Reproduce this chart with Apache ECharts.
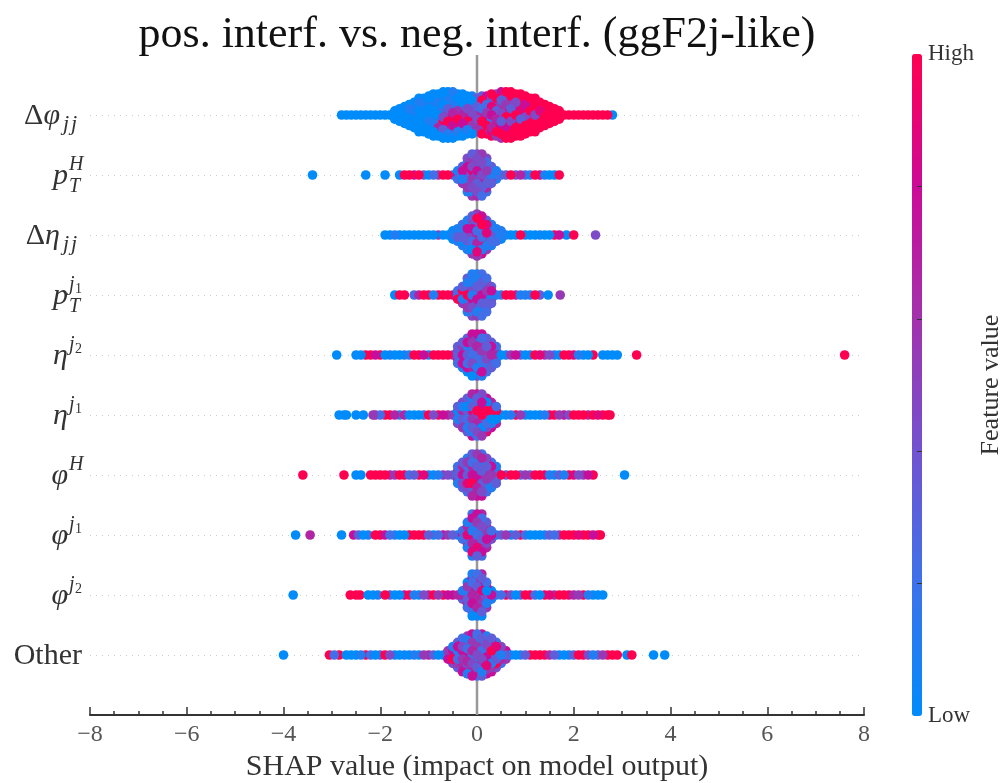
<!DOCTYPE html>
<html>
<head>
<meta charset="utf-8">
<title>SHAP summary</title>
<script src="https://cdn.jsdelivr.net/npm/echarts@6/dist/echarts.min.js"></script>
<style>
  html, body { margin: 0; padding: 0; background: #fff; }
  #main { width: 1001px; height: 783px; }
</style>
</head>
<body>
<div id="main"></div>
<script>
// 每行: X = SHAP 值, F = 该列每个点的特征值(一个数字一个点, 0 低 ~ 9 高)
var dphiX = [-2.8,-2.7,-2.6,-2.5,-2.4,-2.3,-2.2,-2.1,-2,-1.9,-1.8,-1.7,-1.6,-1.5,-1.4,-1.3,-1.2,-1.1,-1,-0.9,-0.8,-0.7,-0.6,-0.5,-0.4,-0.3,-0.2,-0.1,0,0.1,0.2,0.3,0.4,0.5,0.6,0.7,0.8,0.9,1,1.1,1.2,1.3,1.4,1.5,1.6,1.7,1.8,1.9,2,2.1,2.2,2.3,2.4,2.5,2.6,2.7,2.8];
var dphiF = ['0','0','0','0','0','0','0','0','0','0','0','000','0100','00100','010000','0010100','010001000','001000100','0010001000','00100031100','00101037610','001021497310','001035797210','102136897410','00135799710','00026697310','0024879310','1039472530','353984725','3942679519','7429573949','94385729689','39483968795','793584937995','937583998799','994739848999','99479983999','99978939999','9979949999','999993999','999949999','9989999','999999','99999','9999','999','9','9','9','9','9','9','9','9','9','9','0'];

var ptHX = [-3.4,-2.3,-1.9,-1.6,-1.5,-1.4,-1.3,-1.2,-1.1,-1,-0.9,-0.8,-0.7,-0.6,-0.5,-0.4,-0.3,-0.2,-0.1,0,0.1,0.2,0.3,0.4,0.5,0.6,0.7,0.8,0.9,1,1.1,1.2,1.3,1.4,1.5,1.6,1.7];
var ptHF = ['0','0','0','0','9','9','7','9','3','0','2','5','9','9','1','172','37515','417343651','35548352415','44537263546','53428475352','425534362','37153','121','2','3','9','3','6','2','1','9','7','1','0','0','9'];

var detaX = [-1.9,-1.8,-1.7,-1.6,-1.5,-1.4,-1.3,-1.2,-1.1,-1,-0.9,-0.8,-0.7,-0.6,-0.5,-0.4,-0.3,-0.2,-0.1,0,0.1,0.2,0.3,0.4,0.5,0.6,0.7,0.8,0.9,1,1.1,1.2,1.3,1.4,1.5,1.6,1.7,1.85,2,2.45];
var detaF = ['0','0','1','0','0','0','0','0','0','0','0','5','0','0','010','1031','217301','12748301','3417482305','59372646185','7394529317','38284315','193721','1032','110','1','0','0','9','0','0','0','1','0','0','9','7','0','9','4'];

var ptj1X = [-1.7,-1.6,-1.5,-1.3,-1.2,-1.1,-1,-0.9,-0.8,-0.7,-0.6,-0.5,-0.4,-0.3,-0.2,-0.1,0,0.1,0.2,0.3,0.4,0.5,0.6,0.7,0.8,0.9,1,1.1,1.2,1.3,1.47,1.72];
var ptj1F = ['0','9','9','2','6','9','9','1','9','9','9','7','219','39415','314293451','13143173424','11534273415','21324753142','243517342','37153','1','2','9','9','6','1','1','1','9','3','0','5'];

var eta2X = [-2.9,-2.5,-2.4,-2.3,-2.2,-2.1,-2,-1.9,-1.8,-1.7,-1.6,-1.5,-1.4,-1.3,-1.2,-1.1,-1,-0.9,-0.8,-0.7,-0.6,-0.5,-0.4,-0.3,-0.2,-0.1,0,0.1,0.2,0.3,0.4,0.5,0.6,0.7,0.8,0.9,1,1.1,1.2,1.3,1.4,1.5,1.6,1.7,1.8,1.9,2,2.1,2.2,2.3,2.4,2.6,2.7,2.8,2.9,3.3,7.6];
var eta2F = ['0','0','0','9','9','7','9','0','1','0','0','1','1','9','9','7','0','9','9','9','9','5','34362','3517371','371536270','71527254630','70763523174','72515342871','363574172','3726153','23602','0','1','5','7','3','0','1','9','8','5','4','1','0','9','9','8','1','0','0','9','0','0','0','0','9','9'];

var eta1X = [-2.85,-2.75,-2.7,-2.5,-2.35,-2.15,-2.1,-2,-1.9,-1.8,-1.7,-1.6,-1.5,-1.4,-1.3,-1.2,-1.1,-1,-0.9,-0.8,-0.7,-0.6,-0.5,-0.4,-0.3,-0.2,-0.1,0,0.1,0.2,0.3,0.4,0.5,0.6,0.7,0.8,0.9,1,1.1,1.2,1.3,1.4,1.5,1.6,1.7,1.8,1.9,2,2.1,2.2,2.3,2.4,2.5,2.6,2.7,2.75];
var eta1F = ['0','0','0','0','0','5','6','2','9','9','6','1','6','0','0','0','2','9','4','9','7','6','5','30514','4161305','350372713','61038257317','73129296542','40771936085','701935248','6293017','29106','0','0','1','9','5','0','0','0','0','1','8','9','5','7','4','9','9','9','6','9','8','9','9','9'];

var phHX = [-3.6,-2.75,-2.5,-2.4,-2.2,-2.1,-2,-1.9,-1.8,-1.7,-1.6,-1.5,-1.4,-1.3,-1.2,-1.1,-1,-0.9,-0.8,-0.7,-0.6,-0.5,-0.4,-0.3,-0.2,-0.1,0,0.1,0.2,0.3,0.4,0.5,0.6,0.7,0.8,0.9,1,1.1,1.2,1.3,1.4,1.5,1.6,1.7,1.8,1.9,2,2.1,2.2,2.3,2.4,3.05];
var phHF = ['9','9','0','0','9','9','9','9','6','5','9','9','2','3','9','8','1','0','1','5','4','1','25361','3617243','152736842','35261749326','51736472657','26173563747','473625152','2715361','14213','9','3','9','9','3','5','3','9','9','8','1','0','3','1','9','8','4','5','7','9','0'];

var phj1X = [-3.75,-3.45,-2.8,-2.55,-2.45,-2.35,-2.25,-2.1,-2,-1.9,-1.8,-1.7,-1.6,-1.5,-1.4,-1.3,-1.2,-1.1,-1,-0.9,-0.8,-0.7,-0.6,-0.5,-0.4,-0.3,-0.2,-0.1,0,0.1,0.2,0.3,0.4,0.5,0.6,0.7,0.8,0.9,1,1.1,1.2,1.3,1.4,1.5,1.6,1.7,1.8,1.9,2,2.1,2.2,2.3,2.4,2.5,2.55];
var phj1F = ['0','6','0','7','3','0','1','9','9','7','2','1','0','0','9','9','9','9','3','0','2','7','5','3','0','272','1638291','27371746281','71537264813','62741736572','3851746','274','1','3','5','0','3','9','2','0','0','0','1','3','2','5','9','9','9','8','9','9','7','9','9'];

var phj2X = [-3.8,-2.62,-2.5,-2.42,-2.25,-2.15,-2.05,-1.9,-1.8,-1.7,-1.6,-1.5,-1.4,-1.3,-1.2,-1.1,-1,-0.9,-0.8,-0.7,-0.6,-0.5,-0.4,-0.3,-0.2,-0.1,0,0.1,0.2,0.3,0.4,0.5,0.6,0.7,0.8,0.9,1,1.1,1.2,1.3,1.4,1.5,1.6,1.7,1.8,1.9,2,2.1,2.2,2.3,2.4,2.5,2.6];
var phj2F = ['0','9','9','9','0','0','1','9','3','0','0','7','9','1','0','4','6','9','5','9','7','7','6','163','0517362','17263647150','25737164601','63718275430','2704915','071','1','2','9','4','0','3','9','9','2','0','9','8','5','9','9','8','6','5','9','1','0','0','0'];

var otherX = [-4,-3.05,-2.95,-2.85,-2.7,-2.6,-2.5,-2.4,-2.3,-2.2,-2.1,-2,-1.9,-1.8,-1.7,-1.6,-1.5,-1.4,-1.3,-1.2,-1.1,-1,-0.9,-0.8,-0.7,-0.6,-0.5,-0.4,-0.3,-0.2,-0.1,0,0.1,0.2,0.3,0.4,0.5,0.6,0.7,0.8,0.9,1,1.1,1.2,1.3,1.4,1.5,1.6,1.7,1.8,1.9,2,2.1,2.2,2.3,2.4,2.5,2.6,2.7,2.8,2.9,3.1,3.2,3.65,3.88];
var otherF = ['0','9','2','9','0','0','0','1','9','2','0','3','9','4','0','0','1','0','1','0','5','6','3','0','0','537','17394','3716253','274715637','5172736481','71536274637','20759416382','73162747513','1746273857','374926157','2817394','48162','735','0','0','1','3','9','9','9','9','6','3','0','0','1','3','9','9','4','1','3','5','9','9','9','0','9','0','0'];

var shapX = [dphiX, ptHX, detaX, ptj1X, eta2X, eta1X, phHX, phj1X, phj2X, otherX];
var shapF = [dphiF, ptHF, detaF, ptj1F, eta2F, eta1F, phHF, phj1F, phj2F, otherF];

// 纵轴标签: 主体, 下标, 上标, 上标的下标
var labelMain = ['{r|Δ}{i|φ}', '{i|p}', '{r|Δ}{i|η}', '{i|p}', '{i|η}', '{i|η}', '{i|φ}', '{i|φ}', '{i|φ}', '{r|Other}'];
var labelSub = ['jj', 'T', 'jj', 'T', '', '', '', '', '', ''];
var labelSup = ['', 'H', '', 'j', 'j', 'j', 'H', 'j', 'j', ''];
var labelSupSub = ['', '', '', '1', '2', '1', '', '1', '2', ''];

var titleText = 'pos. interf. vs. neg. interf. (ggF2j-like)';
var xName = 'SHAP value (impact on model output)';
var colorName = 'Feature value';
var colorLabels = ['Low', 'High'];
var colorStops = ['#008bfb', '#3c72ea', '#7252d0', '#a232ac', '#cc0a98', '#ff0051'];
var zeroX = [0, 0];
var zeroY = [-1, 10];

var serif = '"Liberation Serif", serif';
var swarmStep = 0.07;

// 按列堆叠成蜂群图的点, 绘制顺序打散, 避免规则的条纹
var points = [];
shapX.forEach(function (xs, row) {
    xs.forEach(function (x, i) {
        var col = shapF[row][i];
        for (var k = 0; k < col.length; k++) {
            points.push({
                order: (i * 37 + k * 61) % 97,
                value: [x, row + (k - (col.length - 1) / 2) * swarmStep, Number(col[k]) / 9]
            });
        }
    });
});
points.sort(function (a, b) { return a.order - b.order; });
var swarmData = points.map(function (p) { return p.value; });

var myChart = echarts.init(document.getElementById('main'));

var option = {
    animation: false,
    backgroundColor: '#fff',
    title: {
        text: titleText,
        left: 472,
        top: 8,
        textAlign: 'center',
        textStyle: { fontFamily: serif, fontSize: 44, fontWeight: 'normal', color: '#111' }
    },
    grid: [
        { left: 90, width: 774, top: 55, height: 660, outerBoundsMode: 'none' },
        // 色条的刻度和文字
        { left: 912, width: 10, top: 54, height: 662, outerBoundsMode: 'none' }
    ],
    xAxis: [
        {
            type: 'value', min: -8, max: 8, interval: 2,
            axisLine: { onZero: false, lineStyle: { color: '#333', width: 2 } },
            axisTick: { inside: true, length: 8, lineStyle: { color: '#333', width: 1.5 } },
            minorTick: { show: true, splitNumber: 4, length: 4, lineStyle: { color: '#333', width: 1.5 } },
            splitLine: { show: false },
            axisLabel: {
                fontFamily: serif, fontSize: 24, color: '#555', margin: 8,
                formatter: function (v) { return String(v).replace('-', '\u2212'); }
            },
            name: xName,
            nameLocation: 'middle',
            nameGap: 36,
            nameTextStyle: { fontFamily: serif, fontSize: 30, color: '#333' }
        },
        { gridIndex: 1, type: 'value', show: false, min: 0, max: 1 }
    ],
    yAxis: [
        {
            type: 'value', min: -1, max: 10, interval: 1, inverse: true,
            axisLine: { show: false },
            axisTick: { show: false },
            axisLabel: { show: false },
            splitLine: {
                show: true, showMinLine: false, showMaxLine: false,
                lineStyle: { color: '#ccc', type: [1, 5], width: 1 }
            }
        },
        {
            gridIndex: 1, type: 'value', min: 0, max: 1, interval: 0.2, position: 'right', z: 10,
            axisLine: { show: false, onZero: false },
            axisTick: { inside: true, length: 5, customValues: [0.2, 0.4, 0.6, 0.8], lineStyle: { color: '#333', width: 1 } },
            splitLine: { show: false },
            axisLabel: {
                customValues: [0, 1], margin: 6, fontFamily: serif, fontSize: 23, color: '#333',
                padding: [4, 0, 0, 0],
                formatter: function (v) { return colorLabels[v]; }
            },
            name: colorName,
            nameLocation: 'middle',
            nameRotate: 90,
            nameGap: 54,
            nameTextStyle: { fontFamily: serif, fontSize: 26, color: '#333' }
        }
    ],
    visualMap: {
        type: 'continuous', min: 0, max: 1, dimension: 2, seriesIndex: 1,
        left: 912, top: 54, itemWidth: 10, itemHeight: 662, padding: 0,
        calculable: false, hoverLink: false, text: null, showLabel: false,
        inRange: { color: colorStops }
    },
    series: [
        {
            // x = 0 的竖线
            name: 'zero', type: 'line', z: 1, silent: true, symbol: 'none',
            data: [[zeroX[0], zeroY[0]], [zeroX[1], zeroY[1]]],
            lineStyle: { color: '#999', width: 2.5 }
        },
        {
            name: 'shap', type: 'scatter', z: 2, symbolSize: 9.6, silent: true,
            large: false, data: swarmData, itemStyle: { opacity: 1 }
        },
        {
            // 纵轴的数学符号标签
            name: 'labels', type: 'custom', z: 3, silent: true,
            data: labelMain.map(function (_, i) { return [-8, i]; }),
            renderItem: function (params, api) {
                var i = params.dataIndex;
                var pos = api.coord([-8, i]);
                var right = pos[0] - 8;
                var cy = pos[1] + 1;
                var script = labelSub[i] === 'jj' ? 22 : (labelSub[i] || labelSup[i] ? 14 : 0);
                var rich = {
                    r: { fontFamily: serif, fontSize: 30, fill: '#333', color: '#333' },
                    i: { fontFamily: serif, fontSize: 30, fontStyle: 'italic', fill: '#333', color: '#333' }
                };
                var kids = [{
                    type: 'text',
                    style: { x: right - script, y: cy, text: labelMain[i], rich: rich, align: 'right', verticalAlign: 'middle', fill: '#333' }
                }];
                function small(text, x, y, size) {
                    kids.push({
                        type: 'text',
                        style: { x: x, y: y, text: text, fill: '#333', font: 'italic ' + size + 'px ' + serif, align: 'left', verticalAlign: 'middle' }
                    });
                }
                if (labelSub[i] === 'jj') {
                    small('j', right - script + 3, cy + 8, 22);
                    small('j', right - script + 11, cy + 8, 22);
                } else if (labelSub[i]) {
                    small(labelSub[i], right - script + 1, cy + 11, 20);
                }
                if (labelSup[i]) {
                    small(labelSup[i], right - script + 1, cy - 11, 20);
                }
                if (labelSupSub[i]) {
                    kids.push({
                        type: 'text',
                        style: { x: right - script + 7, y: cy - 7, text: labelSupSub[i], fill: '#333', font: '14px ' + serif, align: 'left', verticalAlign: 'middle' }
                    });
                }
                return { type: 'group', children: kids };
            }
        }
    ]
};

myChart.setOption(option);
</script>
</body>
</html>
